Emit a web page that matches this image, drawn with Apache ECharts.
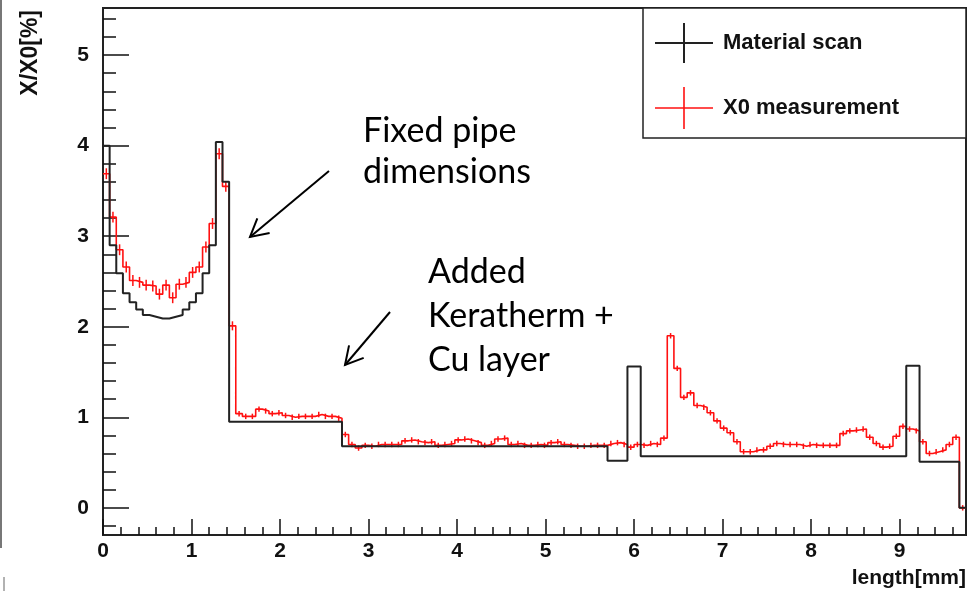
<!DOCTYPE html>
<html><head><meta charset="utf-8">
<script src="https://cdn.jsdelivr.net/npm/echarts@6/dist/echarts.min.js"></script>
<style>html,body{margin:0;padding:0;background:#fff;} #c{width:971px;height:591px;}</style>
</head><body><div id="c"></div>
<script>
// ---- data ----
const binWidth = 0.075;
const xRange = [0, 9.75];
const yRange = [-0.3, 5.52];
const xTickLabels = [0, 1, 2, 3, 4, 5, 6, 7, 8, 9];
const yTickLabels = [0, 1, 2, 3, 4, 5];

const materialScan = [
  4.00, 2.90, 2.59, 2.37, 2.27, 2.19, 2.13, 2.11, 2.09, 2.09,
  2.11, 2.13, 2.19, 2.27, 2.37, 2.59, 2.90, 4.04, 3.60, 0.95,
  0.95, 0.95, 0.95, 0.95, 0.95, 0.95, 0.95, 0.95, 0.95, 0.95,
  0.95, 0.95, 0.95, 0.95, 0.95, 0.95, 0.68, 0.68, 0.68, 0.68,
  0.68, 0.68, 0.68, 0.68, 0.68, 0.68, 0.68, 0.68, 0.68, 0.68,
  0.68, 0.68, 0.68, 0.68, 0.68, 0.68, 0.68, 0.68, 0.68, 0.68,
  0.68, 0.68, 0.68, 0.68, 0.68, 0.68, 0.68, 0.68, 0.68, 0.68,
  0.68, 0.68, 0.68, 0.68, 0.68, 0.68, 0.52, 0.52, 0.52, 1.56,
  1.56, 0.57, 0.57, 0.57, 0.57, 0.57, 0.57, 0.57, 0.57, 0.57,
  0.57, 0.57, 0.57, 0.57, 0.57, 0.57, 0.57, 0.57, 0.57, 0.57,
  0.57, 0.57, 0.57, 0.57, 0.57, 0.57, 0.57, 0.57, 0.57, 0.57,
  0.57, 0.57, 0.57, 0.57, 0.57, 0.57, 0.57, 0.57, 0.57, 0.57,
  0.57, 1.57, 1.57, 0.51, 0.51, 0.51, 0.51, 0.51, 0.51, 0.00
];

const x0Measurement = [
  3.69, 3.21, 2.85, 2.66, 2.51, 2.49, 2.46, 2.45, 2.36, 2.46,
  2.32, 2.47, 2.49, 2.60, 2.66, 2.88, 3.14, 3.91, 3.55, 2.01,
  1.04, 1.01, 1.01, 1.09, 1.07, 1.04, 1.05, 1.02, 1.00, 1.01,
  1.01, 1.01, 1.03, 1.01, 1.01, 0.99, 0.81, 0.70, 0.66, 0.69,
  0.68, 0.70, 0.70, 0.70, 0.70, 0.74, 0.75, 0.73, 0.72, 0.73,
  0.69, 0.70, 0.71, 0.75, 0.76, 0.74, 0.72, 0.69, 0.71, 0.76,
  0.77, 0.70, 0.71, 0.69, 0.69, 0.70, 0.69, 0.72, 0.73, 0.70,
  0.69, 0.68, 0.68, 0.69, 0.69, 0.69, 0.71, 0.72, 0.70, 0.67,
  0.70, 0.69, 0.71, 0.70, 0.77, 1.90, 1.54, 1.22, 1.27, 1.13,
  1.11, 1.05, 0.96, 0.88, 0.83, 0.73, 0.62, 0.62, 0.64, 0.64,
  0.68, 0.71, 0.70, 0.70, 0.70, 0.68, 0.70, 0.69, 0.69, 0.69,
  0.69, 0.82, 0.85, 0.86, 0.87, 0.78, 0.71, 0.67, 0.68, 0.79,
  0.90, 0.87, 0.85, 0.73, 0.60, 0.62, 0.64, 0.70, 0.78, 0.00
];

const x0Errors = [
  0.06, 0.06, 0.06, 0.06, 0.06, 0.06, 0.06, 0.06, 0.06, 0.06,
  0.06, 0.06, 0.06, 0.06, 0.06, 0.06, 0.06, 0.06, 0.06, 0.05,
  0.03, 0.03, 0.03, 0.03, 0.03, 0.03, 0.03, 0.03, 0.03, 0.03,
  0.03, 0.03, 0.03, 0.03, 0.03, 0.03, 0.03, 0.03, 0.03, 0.03,
  0.03, 0.03, 0.03, 0.03, 0.03, 0.03, 0.03, 0.03, 0.03, 0.03,
  0.03, 0.03, 0.03, 0.03, 0.03, 0.03, 0.03, 0.03, 0.03, 0.03,
  0.03, 0.03, 0.03, 0.03, 0.03, 0.03, 0.03, 0.03, 0.03, 0.03,
  0.03, 0.03, 0.03, 0.03, 0.03, 0.03, 0.03, 0.03, 0.03, 0.03,
  0.03, 0.03, 0.03, 0.03, 0.03, 0.03, 0.03, 0.03, 0.03, 0.03,
  0.03, 0.03, 0.03, 0.03, 0.03, 0.03, 0.03, 0.03, 0.03, 0.03,
  0.03, 0.03, 0.03, 0.03, 0.03, 0.03, 0.03, 0.03, 0.03, 0.03,
  0.03, 0.03, 0.03, 0.03, 0.03, 0.03, 0.03, 0.03, 0.03, 0.03,
  0.03, 0.03, 0.03, 0.03, 0.03, 0.03, 0.03, 0.03, 0.03, 0.03
];

const seriesNames = ['Material scan', 'X0 measurement'];
const axisTitles = { x: 'length[mm]', y: 'X/X0[%]' };
const annotations = [
  ['Fixed pipe', 'dimensions'],
  ['Added', 'Keratherm +', 'Cu layer']
];

// ---- build ----
const edge = k => +(k * binWidth).toFixed(4);
function stepData(vals) {
  const d = vals.map((v, k) => [edge(k), v]);
  d.push([edge(vals.length), vals[vals.length - 1]]);
  return d;
}
const errData = x0Measurement.map((v, k) => [+(edge(k) + binWidth / 2).toFixed(4), v, x0Errors[k]]);

const xMinor = [];
for (let i = 1; i * 0.2 < xRange[1]; i++) if (i % 5) xMinor.push(+(i * 0.2).toFixed(2));
const yMinor = [];
for (let i = -1; i * 0.2 < yRange[1]; i++) if (i % 5) yMinor.push(+(i * 0.2).toFixed(2));

const FONT = '"Liberation Sans", Arial, sans-serif';
const ANN = 'Lato, "Open Sans", sans-serif';
const ANN_SIZE = 34;

function arrow(x1, y1, x2, y2, head) {
  const a = Math.atan2(y1 - y2, x1 - x2);
  const w = 0.5;
  return [
    { type: 'line', z: 100, shape: { x1, y1, x2, y2 }, style: { stroke: '#000', lineWidth: 2 } },
    { type: 'polyline', z: 100, shape: { points: [
      [x2 + head * Math.cos(a + w), y2 + head * Math.sin(a + w)], [x2, y2],
      [x2 + head * Math.cos(a - w), y2 + head * Math.sin(a - w)]] },
      style: { stroke: '#000', lineWidth: 2, fill: null } }
  ];
}
function annText(x, y, t) {
  return { type: 'text', z: 60, x, y, style: { text: t, font: ANN_SIZE + 'px ' + ANN, fill: '#000', textVerticalAlign: 'middle' } };
}

const chart = echarts.init(document.getElementById('c'), null, { renderer: 'canvas' });
const axisCommon = { type: 'value', splitLine: { show: false } };

chart.setOption({
  animation: false,
  backgroundColor: '#fff',
  grid: { left: 103, right: 5, top: 8, bottom: 56, show: true, borderColor: '#222', borderWidth: 2, backgroundColor: 'transparent' },
  xAxis: [
    Object.assign({}, axisCommon, {
      min: xRange[0], max: xRange[1], position: 'bottom',
      axisLine: { show: true, onZero: false, lineStyle: { color: '#222', width: 2 } },
      axisTick: { show: true, inside: true, length: 16, customValues: xTickLabels, lineStyle: { color: '#111', width: 1.5 } },
      axisLabel: { show: true, customValues: xTickLabels, margin: 6, color: '#111', fontSize: 21, fontWeight: 'bold', fontFamily: FONT }
    }),
    Object.assign({}, axisCommon, {
      min: xRange[0], max: xRange[1], position: 'bottom',
      axisLine: { show: false, onZero: false },
      axisTick: { show: true, inside: true, length: 8, customValues: xMinor, lineStyle: { color: '#111', width: 1.5 } },
      axisLabel: { show: false }
    })
  ],
  yAxis: [
    Object.assign({}, axisCommon, {
      min: yRange[0], max: yRange[1], position: 'left',
      axisLine: { show: true, onZero: false, lineStyle: { color: '#222', width: 2 } },
      axisTick: { show: true, inside: true, length: 26, customValues: yTickLabels, lineStyle: { color: '#111', width: 1.5 } },
      axisLabel: { show: true, customValues: yTickLabels, margin: 14, color: '#111', fontSize: 21, fontWeight: 'bold', fontFamily: FONT }
    }),
    Object.assign({}, axisCommon, {
      min: yRange[0], max: yRange[1], position: 'left',
      axisLine: { show: false, onZero: false },
      axisTick: { show: true, inside: true, length: 13, customValues: yMinor, lineStyle: { color: '#111', width: 1.5 } },
      axisLabel: { show: false }
    })
  ],
  series: [
    {
      name: seriesNames[1], type: 'line', step: 'end', xAxisIndex: 0, yAxisIndex: 0,
      data: stepData(x0Measurement), showSymbol: false, z: 2,
      lineStyle: { color: '#ff1010', width: 1.6 }, silent: true
    },
    {
      name: seriesNames[1] + ' errors', type: 'custom', xAxisIndex: 0, yAxisIndex: 0, z: 2,
      data: errData, silent: true,
      renderItem: (params, api) => {
        const x = api.value(0), y = api.value(1), e = api.value(2);
        const p1 = api.coord([x, y - e]), p2 = api.coord([x, y + e]);
        return { type: 'line', shape: { x1: p1[0], y1: p1[1], x2: p2[0], y2: p2[1] }, style: { stroke: '#ff1010', lineWidth: 1.5 } };
      }
    },
    {
      name: seriesNames[0], type: 'line', step: 'end', xAxisIndex: 0, yAxisIndex: 0,
      data: stepData(materialScan), showSymbol: false, z: 3,
      lineStyle: { color: '#222', width: 2 }, silent: true
    }
  ],
  graphic: [
    // legend
    { type: 'rect', z: 50, shape: { x: 643, y: 8, width: 323, height: 130 }, style: { fill: '#fff', stroke: '#222', lineWidth: 1.5 } },
    { type: 'line', z: 51, shape: { x1: 655, y1: 43, x2: 713, y2: 43 }, style: { stroke: '#222', lineWidth: 2 } },
    { type: 'line', z: 51, shape: { x1: 684, y1: 23, x2: 684, y2: 63 }, style: { stroke: '#222', lineWidth: 2 } },
    { type: 'text', z: 51, x: 723, y: 43, style: { text: seriesNames[0], font: 'bold 22px ' + FONT, fill: '#111', textVerticalAlign: 'middle' } },
    { type: 'line', z: 51, shape: { x1: 655, y1: 108, x2: 713, y2: 108 }, style: { stroke: '#ff1010', lineWidth: 1.6 } },
    { type: 'line', z: 51, shape: { x1: 684, y1: 87, x2: 684, y2: 129 }, style: { stroke: '#ff1010', lineWidth: 1.6 } },
    { type: 'text', z: 51, x: 723, y: 108, style: { text: seriesNames[1], font: 'bold 22px ' + FONT, fill: '#111', textVerticalAlign: 'middle' } },
    // axis titles
    { type: 'text', z: 51, x: 966, y: 578, style: { text: axisTitles.x, font: 'bold 21px ' + FONT, fill: '#111', textAlign: 'right', textVerticalAlign: 'middle' } },
    { type: 'text', z: 51, x: 31, y: 10, rotation: Math.PI / 2, style: { text: axisTitles.y, font: 'bold 23px ' + FONT, fill: '#111', textAlign: 'right', textVerticalAlign: 'middle' } },
    // annotations
    annText(363, 131, annotations[0][0]),
    annText(363, 172, annotations[0][1]),
    annText(428, 272, annotations[1][0]),
    annText(428, 316, annotations[1][1]),
    annText(428, 360, annotations[1][2]),
    ...arrow(329, 171, 250, 237, 20),
    ...arrow(390, 312, 345, 365, 20),
    // screenshot edge marks
    { type: 'line', z: 1, shape: { x1: 1, y1: 0, x2: 1, y2: 548 }, style: { stroke: '#777', lineWidth: 2 } },
    { type: 'line', z: 1, shape: { x1: 4, y1: 577, x2: 4, y2: 591 }, style: { stroke: '#999', lineWidth: 1.5 } }
  ]
});
</script></body></html>
